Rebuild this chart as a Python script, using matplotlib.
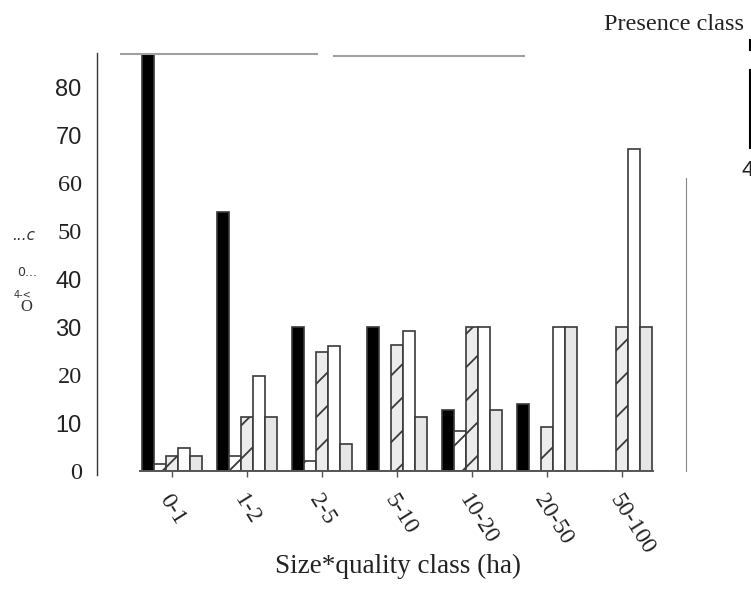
import matplotlib
matplotlib.use("Agg")
from matplotlib import pyplot as plt
from matplotlib.transforms import ScaledTranslation
import numpy as np

plt.rcParams['hatch.linewidth'] = 1.3

# size*quality classes and the five presence-class series (percent)
classes = ["0-1", "1-2", "2-5", "5-10", "10-20", "20-50", "50-100"]
black = [87, 54, 30, 30, 12.7, 14, 0]
white_hatch = [1.5, 3.1, 2, 0, 8.3, 0, 0]
gray_hatch = [3.1, 11.3, 24.9, 26.2, 30, 9.2, 30]
white = [4.8, 19.8, 26, 29.2, 30, 30, 67]
gray = [3.1, 11.3, 5.6, 11.3, 12.7, 30, 30]

yticks = [0, 10, 20, 30, 40, 50, 60, 70, 80]
ytick_fonts = ["Liberation Serif", "Liberation Sans", "Liberation Serif",
               "Liberation Sans", "Liberation Sans", "Liberation Serif",
               "Liberation Serif", "Liberation Sans", "Liberation Sans"]

fig = plt.figure(figsize=(7.51, 5.90), dpi=100)
ax = fig.add_axes([97/751, 119/590, 589/751, 417/590])

x = np.arange(len(classes))
w = 0.16
edge = "#3a3a3a"
series = [
    (black, "black", None),
    (white_hatch, "white", "/"),
    (gray_hatch, "#ececec", "/"),
    (white, "white", None),
    (gray, "#e6e6e6", None),
]
for k, (vals, col, hatch) in enumerate(series):
    ax.bar(x + (k - 2) * w, vals, width=w, color=col, edgecolor=edge,
           linewidth=1.2, hatch=hatch, zorder=2)

ax.set_xlim(-1.0, 6.853)
ax.set_ylim(0, 86.9)

# broken scan look: partial frame lines
ax.spines["top"].set_visible(False)
ax.spines["left"].set_bounds(-0.8, 87.1)
ax.spines["left"].set_color("#333333")
ax.spines["left"].set_linewidth(1.0)
ax.spines["right"].set_bounds(0, 61)
ax.spines["right"].set_color("#888888")
ax.spines["bottom"].set_bounds(-0.43, 6.41)
ax.spines["bottom"].set_color("#555555")
ax.spines["bottom"].set_linewidth(1.4)
ax.hlines(86.9, -0.69, 1.95, color="#a0a0a0", lw=1.5, clip_on=False)
ax.hlines(86.5, 2.15, 4.71, color="#a0a0a0", lw=1.5, clip_on=False)

ax.set_yticks(yticks)
ax.set_yticklabels([str(v) for v in yticks])
for lab, fnt in zip(ax.get_yticklabels(), ytick_fonts):
    lab.set_fontfamily(fnt)
    lab.set_fontsize(17.5 if "Serif" in fnt else 17)
    lab.set_color("#222222")
ax.tick_params(axis="y", length=0, pad=11)

ax.set_xticks(x)
ax.set_xticklabels(classes, rotation=-58, ha="left", va="center",
                   rotation_mode="anchor", fontfamily="Liberation Serif",
                   fontsize=17, color="#222222")
ax.tick_params(axis="x", length=4, width=1, color="#555555", pad=14)
shift = ScaledTranslation(-8/100, 0, fig.dpi_scale_trans)
for lab in ax.get_xticklabels():
    lab.set_transform(lab.get_transform() + shift)

fig.text(398/751, 1 - 566/590, "Size*quality class (ha)", ha="center",
         va="center", fontfamily="Liberation Serif", fontsize=19.5, color="#222222")
fig.text(604/751, 1 - 25/590, "Presence class", ha="left", va="center",
         fontfamily="Liberation Serif", fontsize=17.5, color="#222222")
fig.text(741/751, 1 - 170/590, "4", ha="left", va="center",
         fontfamily="Liberation Sans", fontsize=16, color="#222222")
fig.add_artist(plt.Line2D([750/751, 750/751], [1 - 40/590, 1 - 50/590],
                          color="black", lw=1.5))
fig.add_artist(plt.Line2D([750/751, 750/751], [1 - 70/590, 1 - 148/590],
                          color="black", lw=1.5))

# scanned axis-label fragments
fig.text(12/751, 1 - 235/590, "...c", fontsize=11, style="italic",
         color="#333333", va="center")
fig.text(17/751, 1 - 273/590, "0...", fontsize=9, color="#333333", va="center")
fig.text(14/751, 1 - 295/590, "4-<", fontsize=7, color="#333333", va="center")
fig.text(20/751, 1 - 307/590, "O", fontsize=12, fontfamily="Liberation Serif",
         color="#333333", va="center")

fig.savefig("out.png", dpi=100)
plt.close(fig)
